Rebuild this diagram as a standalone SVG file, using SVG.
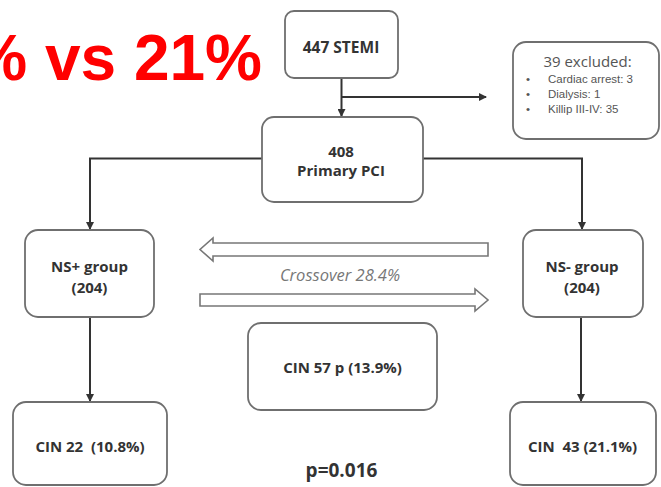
<svg xmlns="http://www.w3.org/2000/svg" width="661" height="487" viewBox="0 0 661 487">
<style>
.box{fill:#fff;stroke:#6f6f6f;stroke-width:1.8}
.t{font-family:"Open Sans","Liberation Sans",sans-serif;font-weight:bold;fill:#333;text-anchor:middle}
.ex{font-family:"Open Sans","Liberation Sans",sans-serif;fill:#555}
.exi{font-family:"Liberation Sans",Arial,sans-serif;fill:#555}
.conn{fill:none;stroke:#333;stroke-width:2}
.hollow{fill:#fff;stroke:#777;stroke-width:1.6;stroke-linejoin:miter}
</style>
<defs>
<marker id="ah" markerWidth="8" markerHeight="8" refX="7" refY="4" orient="auto" markerUnits="userSpaceOnUse">
<path d="M0,0 L8,4 L0,8 Z" fill="#333"/>
</marker>
</defs>
<rect width="661" height="487" fill="#fff"/>
<text x="262" y="80" text-anchor="end" font-family="Liberation Sans,Arial,sans-serif" font-weight="bold" font-size="64" fill="#ff0000">% vs 21%</text>

<g id="connectors">
<path class="conn" d="M341.5,78 V116" marker-end="url(#ah)"/>
<path class="conn" d="M341.5,97 H486" marker-end="url(#ah)"/>
<path class="conn" d="M262,158.5 H90 V229" marker-end="url(#ah)"/>
<path class="conn" d="M423,158.5 H582 V229" marker-end="url(#ah)"/>
<path class="conn" d="M90,317 V401" marker-end="url(#ah)"/>
<path class="conn" d="M581,317 V401" marker-end="url(#ah)"/>
<polygon class="hollow" points="488,243 213,243 213,238 200,249.5 213,261 213,256 488,256"/>
<polygon class="hollow" points="200,294 475,294 475,289 488,300 475,311 475,306 200,306"/>
</g>

<g id="stemi">
<rect class="box" x="285" y="11" width="113" height="67" rx="9"/>
<text class="t" x="341" y="53" font-size="15.5">447 STEMI</text>
</g>

<g id="excluded">
<rect class="box" x="513" y="42" width="146" height="97" rx="13"/>
<text class="ex" x="587.5" y="67" font-size="15" text-anchor="middle">39 excluded:</text>
<g font-size="11.5">
<text class="exi" x="526" y="83">•</text>
<text class="exi" x="548" y="83">Cardiac arrest: 3</text>
<text class="exi" x="526" y="98">•</text>
<text class="exi" x="548" y="98">Dialysis: 1</text>
<text class="exi" x="526" y="113">•</text>
<text class="exi" x="548" y="113">Killip III-IV: 35</text>
</g>
</g>

<g id="pci">
<rect class="box" x="262" y="117" width="161" height="85" rx="12"/>
<text class="t" x="341" y="157" font-size="15">408</text>
<text class="t" x="341" y="176" font-size="15">Primary PCI</text>
</g>

<g id="nsplus">
<rect class="box" x="25" y="230" width="129" height="87" rx="13"/>
<text class="t" x="89.5" y="272" font-size="15">NS+ group</text>
<text class="t" x="89.5" y="293" font-size="15">(204)</text>
</g>

<g id="nsminus">
<rect class="box" x="523" y="230" width="120" height="87" rx="13"/>
<text class="t" x="582" y="272" font-size="15">NS- group</text>
<text class="t" x="582" y="293" font-size="15">(204)</text>
</g>

<g id="crossover">
<text x="340" y="281" text-anchor="middle" font-family="Open Sans,Liberation Sans,sans-serif" font-style="italic" font-size="16.5" fill="#777">Crossover 28.4%</text>
</g>

<g id="cin57">
<rect class="box" x="248" y="323" width="189" height="87" rx="13"/>
<text class="t" x="342.5" y="373" font-size="15">CIN 57 p (13.9%)</text>
</g>

<g id="cin22">
<rect class="box" x="13" y="402" width="154" height="83" rx="13"/>
<text class="t" x="90" y="452" font-size="15" xml:space="preserve">CIN 22  (10.8%)</text>
</g>

<g id="cin43">
<rect class="box" x="510" y="402" width="146" height="83" rx="13"/>
<text class="t" x="582.5" y="452" font-size="15" xml:space="preserve">CIN  43 (21.1%)</text>
</g>

<g id="pvalue">
<text class="t" x="341.5" y="477" font-size="19">p=0.016</text>
</g>
</svg>
